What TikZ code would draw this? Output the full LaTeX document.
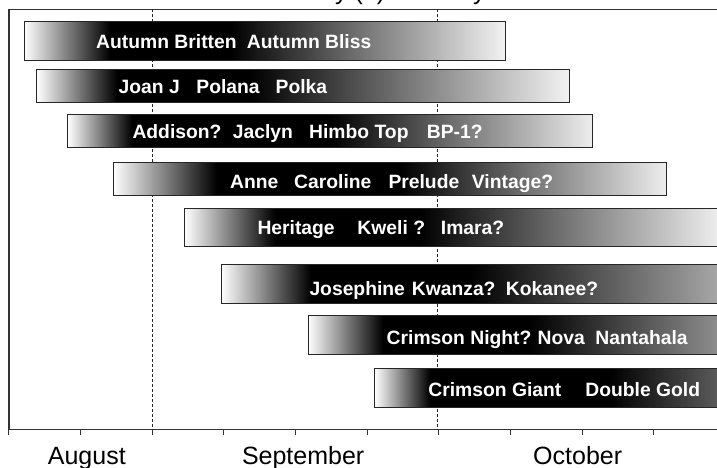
\documentclass[tikz,border=0pt]{standalone}
\usepackage{fontspec}
\setmainfont{Liberation Sans}
\definecolor{endA}{gray}{0.95}
\definecolor{endB}{gray}{0.95}
\definecolor{endC}{gray}{0.93}
\definecolor{endD}{gray}{0.93}
\definecolor{endE}{gray}{1.0}
\definecolor{endF}{gray}{0.71}
\definecolor{endG}{gray}{0.62}
\definecolor{endH}{gray}{0.43}
\definecolor{framegray}{gray}{0.2}
\pgfdeclarehorizontalshading{barA}{100bp}{color(0bp)=(white); color(25bp)=(white); color(33.93bp)=(black); color(46.4bp)=(black); color(75bp)=(endA); color(100bp)=(endA)}
\pgfdeclarehorizontalshading{barB}{100bp}{color(0bp)=(white); color(25bp)=(white); color(32.54bp)=(black); color(45.02bp)=(black); color(75bp)=(endB); color(100bp)=(endB)}
\pgfdeclarehorizontalshading{barC}{100bp}{color(0bp)=(white); color(25bp)=(white); color(31.13bp)=(black); color(50.01bp)=(black); color(75bp)=(endC); color(100bp)=(endC)}
\pgfdeclarehorizontalshading{barD}{100bp}{color(0bp)=(white); color(25bp)=(white); color(34.38bp)=(black); color(50.94bp)=(black); color(75bp)=(endD); color(100bp)=(endD)}
\pgfdeclarehorizontalshading{barE}{100bp}{color(0bp)=(white); color(25bp)=(white); color(33.16bp)=(black); color(46.21bp)=(black); color(75bp)=(endE); color(100bp)=(endE)}
\pgfdeclarehorizontalshading{barF}{100bp}{color(0bp)=(white); color(25bp)=(white); color(33.65bp)=(black); color(48.97bp)=(black); color(75bp)=(endF); color(100bp)=(endF)}
\pgfdeclarehorizontalshading{barG}{100bp}{color(0bp)=(white); color(25bp)=(white); color(33.68bp)=(black); color(50.69bp)=(black); color(75bp)=(endG); color(100bp)=(endG)}
\pgfdeclarehorizontalshading{barH}{100bp}{color(0bp)=(white); color(25bp)=(white); color(32.57bp)=(black); color(57.21bp)=(black); color(75bp)=(endH); color(100bp)=(endH)}
\tikzset{
  barbox/.style={shade, draw=black!85, line width=0.9pt, anchor=north west, inner sep=0pt, outer sep=0pt},
  barlbl/.style={anchor=base west, inner sep=0pt, text=white, font=\fontsize{19.3}{23}\selectfont\bfseries},
  monthlbl/.style={anchor=base west, inner sep=0pt, font=\fontsize{25}{30}\selectfont},
  guide/.style={dash pattern=on 3pt off 2pt, line width=0.7pt, black!85},
  framel/.style={framegray, line width=1.3pt},
  tickl/.style={framegray, line width=1pt}
}
\newcommand{\wbox}[2]{\makebox[#1pt][l]{#2}}
\begin{document}
\begin{tikzpicture}[x=1pt,y=-1pt]
\useasboundingbox (0,0) rectangle (717,468);
\clip (0,0) rectangle (717,468);
% title fragments (cut off at top)
\node[monthlbl] (ttlA) at (335,-0.3) {y (?)};
\node[monthlbl] (ttlB) at (473,-0.3) {y};
% frame
\coordinate (ftl) at (8.7,9.3);
\coordinate (fbl) at (8.7,429.5);
\coordinate (ftr) at (745,9.3);
\coordinate (fbr) at (745,429.5);
\draw[framel] (ftl) -- (ftr);
\draw[framel] (fbl) -- (fbr);
\draw[framegray, line width=1.8pt] (ftl) -- (fbl);
\foreach \k in {0,...,9} \draw[tickl] (8.7+71.67*\k,429.5) -- ++(0,5.8);
% dashed month guides
\coordinate (gAt) at (152.7,9.3);
\coordinate (gAb) at (152.7,429.5);
\coordinate (gBt) at (437.6,9.3);
\coordinate (gBb) at (437.6,429.5);
\draw[guide] (gAt) -- (gAb);
\draw[guide] (gBt) -- (gBb);
% bars
\node[barbox, shading=barA, minimum width=481.3pt, minimum height=38.5pt] (b1) at (24,21.7) {};
\node[barbox, shading=barB, minimum width=532.6pt, minimum height=32.9pt] (b2) at (36.7,69.3) {};
\node[barbox, shading=barC, minimum width=524.3pt, minimum height=32.7pt] (b3) at (67.7,114.8) {};
\node[barbox, shading=barD, minimum width=552.7pt, minimum height=32.7pt] (b4) at (113.3,162.4) {};
\node[barbox, shading=barE, minimum width=555.7pt, minimum height=38.6pt] (b5) at (184.3,208.3) {};
\node[barbox, shading=barF, minimum width=518.7pt, minimum height=39.1pt] (b6) at (221.3,264.2) {};
\node[barbox, shading=barG, minimum width=432pt, minimum height=38.7pt] (b7) at (308,315.6) {};
\node[barbox, shading=barH, minimum width=365.3pt, minimum height=39pt] (b8) at (374.7,368.6) {};
% bar labels
\node[barlbl] (t1) at (96,48.3) {\wbox{150.7}{Autumn Britten}Autumn Bliss};
\node[barlbl] (t2) at (118.5,93.8) {\wbox{77.7}{Joan J}\wbox{79.3}{Polana}Polka};
\node[barlbl] (t3) at (132.3,138.3) {\wbox{100.4}{Addison?}\wbox{76.3}{Jaclyn}\wbox{117.7}{Himbo Top}BP-1?};
\node[barlbl] (t4) at (230,188.3) {\wbox{64}{Anne}\wbox{94.3}{Caroline}\wbox{83.4}{Prelude}Vintage?};
\node[barlbl] (t5) at (257.3,234.3) {\wbox{100}{Heritage}\wbox{83.4}{Kweli ?}Imara?};
\node[barlbl] (t6) at (309.3,295) {\wbox{102.4}{Josephine}\wbox{94}{Kwanza?}Kokanee?};
\node[barlbl] (t7) at (386.5,344) {\wbox{151}{Crimson Night?}\wbox{57.7}{Nova}Nantahala};
\node[barlbl] (t8) at (428.2,396.7) {\wbox{157}{Crimson Giant}Double Gold};
% month labels
\node[monthlbl] (mAug) at (47.7,464.5) {August};
\node[monthlbl] (mSep) at (241.8,464.5) {September};
\node[monthlbl] (mOct) at (533,464.5) {October};
\end{tikzpicture}
\end{document}
